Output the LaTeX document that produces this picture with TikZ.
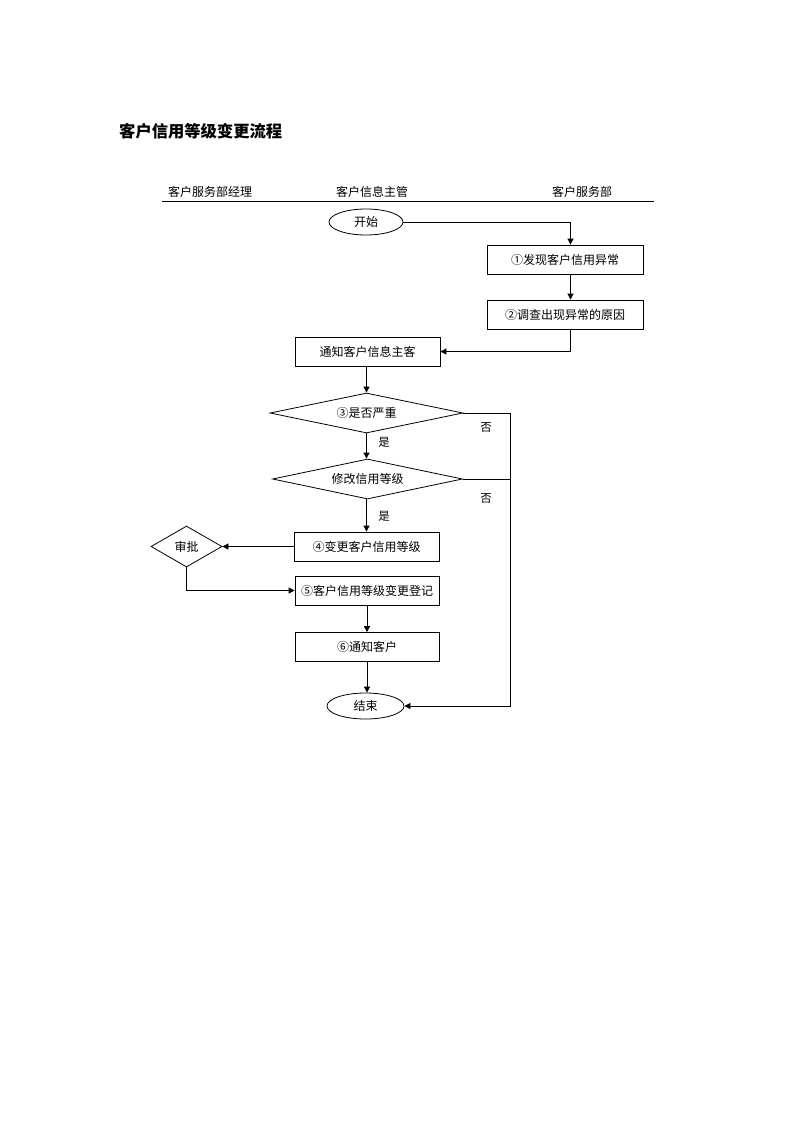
\documentclass[tikz,border=0pt]{standalone}
\usepackage{fontspec}
\setmainfont{Noto Sans CJK SC}
\usetikzlibrary{shapes.geometric,arrows.meta,calc}
\begin{document}
\begin{tikzpicture}[x=1pt,y=-1pt,
  every node/.style={font=\fontsize{12}{14}\selectfont, inner sep=0pt},
  line/.style={line width=0.8pt, draw=black},
  arr/.style={line, -{Triangle[length=6pt,width=6pt]}},
  proc/.style={line, draw, rectangle, minimum width=145pt, minimum height=29pt},
  term/.style={line, draw, ellipse, minimum width=74pt, minimum height=26pt},
  dec/.style={line, draw, diamond, aspect=4.8, minimum width=193pt, minimum height=40pt},
  lbl/.style={font=\fontsize{11.5}{13}\selectfont}
]
\useasboundingbox (0,0) rectangle (793,1122);
\fill[white] (0,0) rectangle (793,1122);

\node[anchor=west, font=\fontsize{16.3}{19}\selectfont\bfseries] (title) at (119,131) {客户信用等级变更流程};

\node (h1) at (210,192) {客户服务部经理};
\node (h2) at (372,192) {客户信息主管};
\node (h3) at (582,192) {客户服务部};
\coordinate (hl) at (162,201);
\coordinate (hr) at (654,201);
\draw[line] (hl) -- (hr);

\node[term] (start) at (366,222) {开始};
\node[proc, minimum width=156pt] (b1) at (565,259.5) {①发现客户信用异常};
\node[proc, minimum width=156pt] (b2) at (565,314.5) {②调查出现异常的原因};
\node[proc] (b3) at (367.5,351.5) {通知客户信息主客};
\node[dec] (d1) at (366.5,413) {③是否严重};
\node[dec, minimum width=190pt] (d2) at (367.5,479) {修改信用等级};
\node[proc] (b4) at (366.5,546.5) {④变更客户信用等级};
\node[line, draw, diamond, aspect=1.73, minimum width=71pt, minimum height=41pt] (sp) at (186.5,546.5) {审批};
\node[proc, minimum width=144pt] (b5) at (367,590.5) {⑤客户信用等级变更登记};
\node[proc, minimum width=144pt] (b6) at (367,647) {⑥通知客户};
\node[term, minimum width=77pt] (end) at (365.5,706) {结束};

\coordinate (rx) at (510,0);

\draw[arr] (start.east) -| ([xshift=5.5pt]b1.north);
\draw[arr] ([xshift=5.5pt]b1.south) -- ([xshift=5.5pt]b2.north);
\draw[arr] ([xshift=5.5pt]b2.south) |- (b3.east);
\draw[arr] (b3.south -| d1.north) -- (d1.north);
\draw[arr] (d1.south) -- (d2.north -| d1.south);
\draw[arr] (d2.south -| b4.north) -- (b4.north);
\draw[line] (d1.east) -- (d1.east -| rx);
\draw[line] (d2.east) -- (d2.east -| rx);
\draw[arr] (d1.east -| rx) |- (end.east);
\draw[arr] (b4.west) -- (sp.east);
\draw[arr] (sp.south) |- (b5.west);
\draw[arr] (b5.south) -- (b6.north);
\draw[arr] (b6.south) -- (end.north -| b6.south);

\node[lbl] (no1) at (486,427) {否};
\node[lbl] (no2) at (486,498) {否};
\node[lbl] (yes1) at (384,442) {是};
\node[lbl] (yes2) at (384,516) {是};
\end{tikzpicture}
\end{document}
